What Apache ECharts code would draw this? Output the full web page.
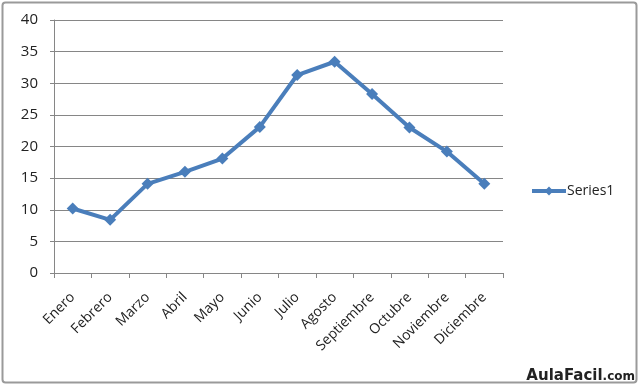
<!DOCTYPE html>
<html><head><meta charset="utf-8">
<script src="https://cdn.jsdelivr.net/npm/echarts@6/dist/echarts.min.js"></script>
<style>html,body{margin:0;padding:0;background:#fff}#c{width:640px;height:386px}</style>
</head><body><div id="c"></div>
<script>
var categories = ['Enero','Febrero','Marzo','Abril','Mayo','Junio','Julio','Agosto','Septiembre','Octubre','Noviembre','Diciembre'];
var series1 = [10.2, 8.4, 14.1, 16, 18.1, 23.1, 31.3, 33.4, 28.3, 23, 19.2, 14.1];
var seriesName = 'Series1';
var chart = echarts.init(document.getElementById('c'), null, {renderer:'canvas'});
chart.setOption({
  animation:false,
  backgroundColor:'#fff',
  graphic:[
    {type:'rect', shape:{x:2.5,y:2.5,width:634,height:380,r:3}, style:{fill:'none', stroke:'#9a9a9a', lineWidth:2}},
    {type:'text', right:5, bottom:2, style:{
      text:'{a|AulaFacil}{b|.com}',
      rich:{a:{font:'bold 15px "DejaVu Sans"', fill:'#222'}, b:{font:'bold 12px "DejaVu Sans"', fill:'#222'}}
    }}
  ],
  grid:{left:54, right:137, top:20, bottom:113},
  legend:{
    data:[seriesName], left:530, top:184, padding:0, orient:'vertical', itemWidth:34, itemHeight:11, itemGap:4,
    lineStyle:{width:4},
    textStyle:{fontFamily:'Open Sans', fontSize:14, color:'#222', padding:[0,0,0,-4]}
  },
  xAxis:{
    type:'category', data:categories, boundaryGap:true,
    axisLine:{lineStyle:{color:'#868686'}},
    axisTick:{show:true, alignWithLabel:false, length:5, lineStyle:{color:'#868686'}},
    axisLabel:{rotate:45, interval:0, fontFamily:'Open Sans', fontSize:14, color:'#222', margin:22}
  },
  yAxis:{
    type:'value', min:0, max:40, interval:5,
    axisLine:{show:true, lineStyle:{color:'#868686'}},
    axisTick:{show:true, length:4, lineStyle:{color:'#868686'}},
    splitLine:{lineStyle:{color:'#868686', width:1}},
    axisLabel:{fontFamily:'Open Sans', fontSize:15, color:'#222', margin:16}
  },
  series:[{
    name:seriesName, type:'line', data:series1,
    symbol:'diamond', symbolSize:12,
    lineStyle:{color:'#4a7ebb', width:4},
    itemStyle:{color:'#4a7ebb'}
  }]
});
</script></body></html>
